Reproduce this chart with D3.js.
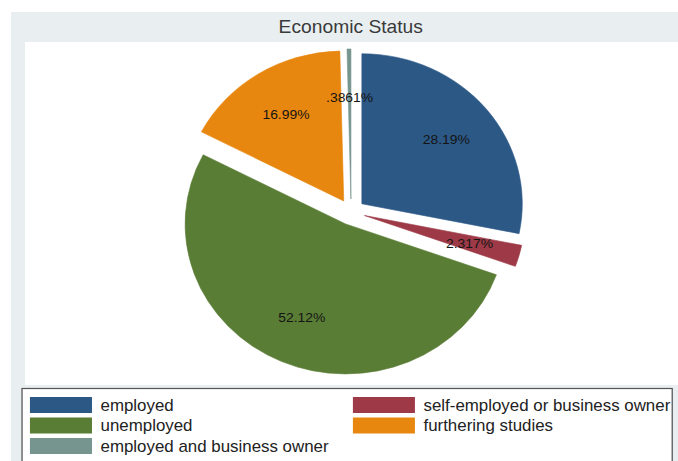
<!DOCTYPE html>
<html>
<head>
<meta charset="utf-8">
<script src="https://cdn.jsdelivr.net/npm/d3@7"></script>
<style>
  html, body { margin: 0; padding: 0; background: #ffffff; }
  svg { display: block; }
  text { font-family: "Liberation Sans", Arial, sans-serif; }
</style>
</head>
<body>
<svg id="chart" width="678" height="461"></svg>
<script>
// Economic status of respondents, share of each group (%)
const categories = [
  "employed",
  "self-employed or business owner",
  "unemployed",
  "furthering studies",
  "employed and business owner"
];
const shares = [28.19, 2.317, 52.12, 16.99, 0.3861];
const colors = ["#2c5886", "#9e3a48", "#5a7d36", "#e8870f", "#76958f"];
const title = "Economic Status";

// percentage label in the style ".3861%" / "28.19%"
const fmtShare = v => String(v).replace(/^0\./, ".") + "%";

// drawing surface: internal width is narrower and stretched to the full page width
const W = 634, H = 461;
const svg = d3.select("#chart")
  .attr("viewBox", `0 0 ${W} ${H}`)
  .attr("preserveAspectRatio", "none");

// graph region, title band, plot region
svg.append("rect").attr("x", 10.3).attr("y", 12).attr("width", W).attr("height", H)
  .attr("fill", "#e9eff1");
svg.append("rect").attr("x", 23.4).attr("y", 42).attr("width", W).attr("height", 343)
  .attr("fill", "#ffffff");

svg.append("text")
  .attr("x", 328).attr("y", 33)
  .attr("text-anchor", "middle")
  .attr("font-size", 18)
  .attr("fill", "#3a3a3a")
  .text(title);

// pie, every slice pulled out along its bisector
const cx = 328.3, cy = 212, R = 150, explode = 13, labelR = 102;
const pie = d3.pie().sort(null).value(d => d.v);
const arc = d3.arc().innerRadius(0).outerRadius(R);
const data = pie(shares.map((v, i) => ({ v, i })));

const g = svg.append("g").attr("transform", `translate(${cx},${cy})`);
const dir = d => {
  const a = (d.startAngle + d.endAngle) / 2;
  return [Math.sin(a), -Math.cos(a)];
};

g.selectAll("path.slice").data(data).join("path")
  .attr("class", "slice")
  .attr("transform", d => { const [ux, uy] = dir(d); return `translate(${ux * explode},${uy * explode})`; })
  .attr("d", arc)
  .attr("fill", d => colors[d.data.i])
  .attr("stroke", d => colors[d.data.i])
  .attr("stroke-width", 0.6);

g.selectAll("text.plabel").data(data).join("text")
  .attr("class", "plabel")
  .attr("x", d => dir(d)[0] * (explode + labelR))
  .attr("y", d => dir(d)[1] * (explode + labelR))
  .attr("dy", "0.35em")
  .attr("text-anchor", "middle")
  .attr("font-size", 13)
  .attr("fill", "#141414")
  .text(d => fmtShare(d.data.v));

// legend: two columns, filled row by row
const legend = svg.append("g");
legend.append("rect")
  .attr("x", 20.6).attr("y", 388.5).attr("width", 608).attr("height", 90)
  .attr("fill", "#ffffff").attr("stroke", "#555555").attr("stroke-width", 1.2);

const colX = [28, 330];
const rowY = [405, 425.5, 446];
const items = legend.selectAll("g.item").data(categories).join("g")
  .attr("class", "item")
  .attr("transform", (d, i) => `translate(${colX[i % 2]},${rowY[Math.floor(i / 2)]})`);
items.append("rect")
  .attr("x", 0).attr("y", -8).attr("width", 58).attr("height", 16)
  .attr("fill", (d, i) => colors[i]);
items.append("text")
  .attr("x", 66).attr("y", 0).attr("dy", "0.35em")
  .attr("font-size", 15.8)
  .attr("fill", "#222222")
  .text(d => d);
</script>
</body>
</html>
